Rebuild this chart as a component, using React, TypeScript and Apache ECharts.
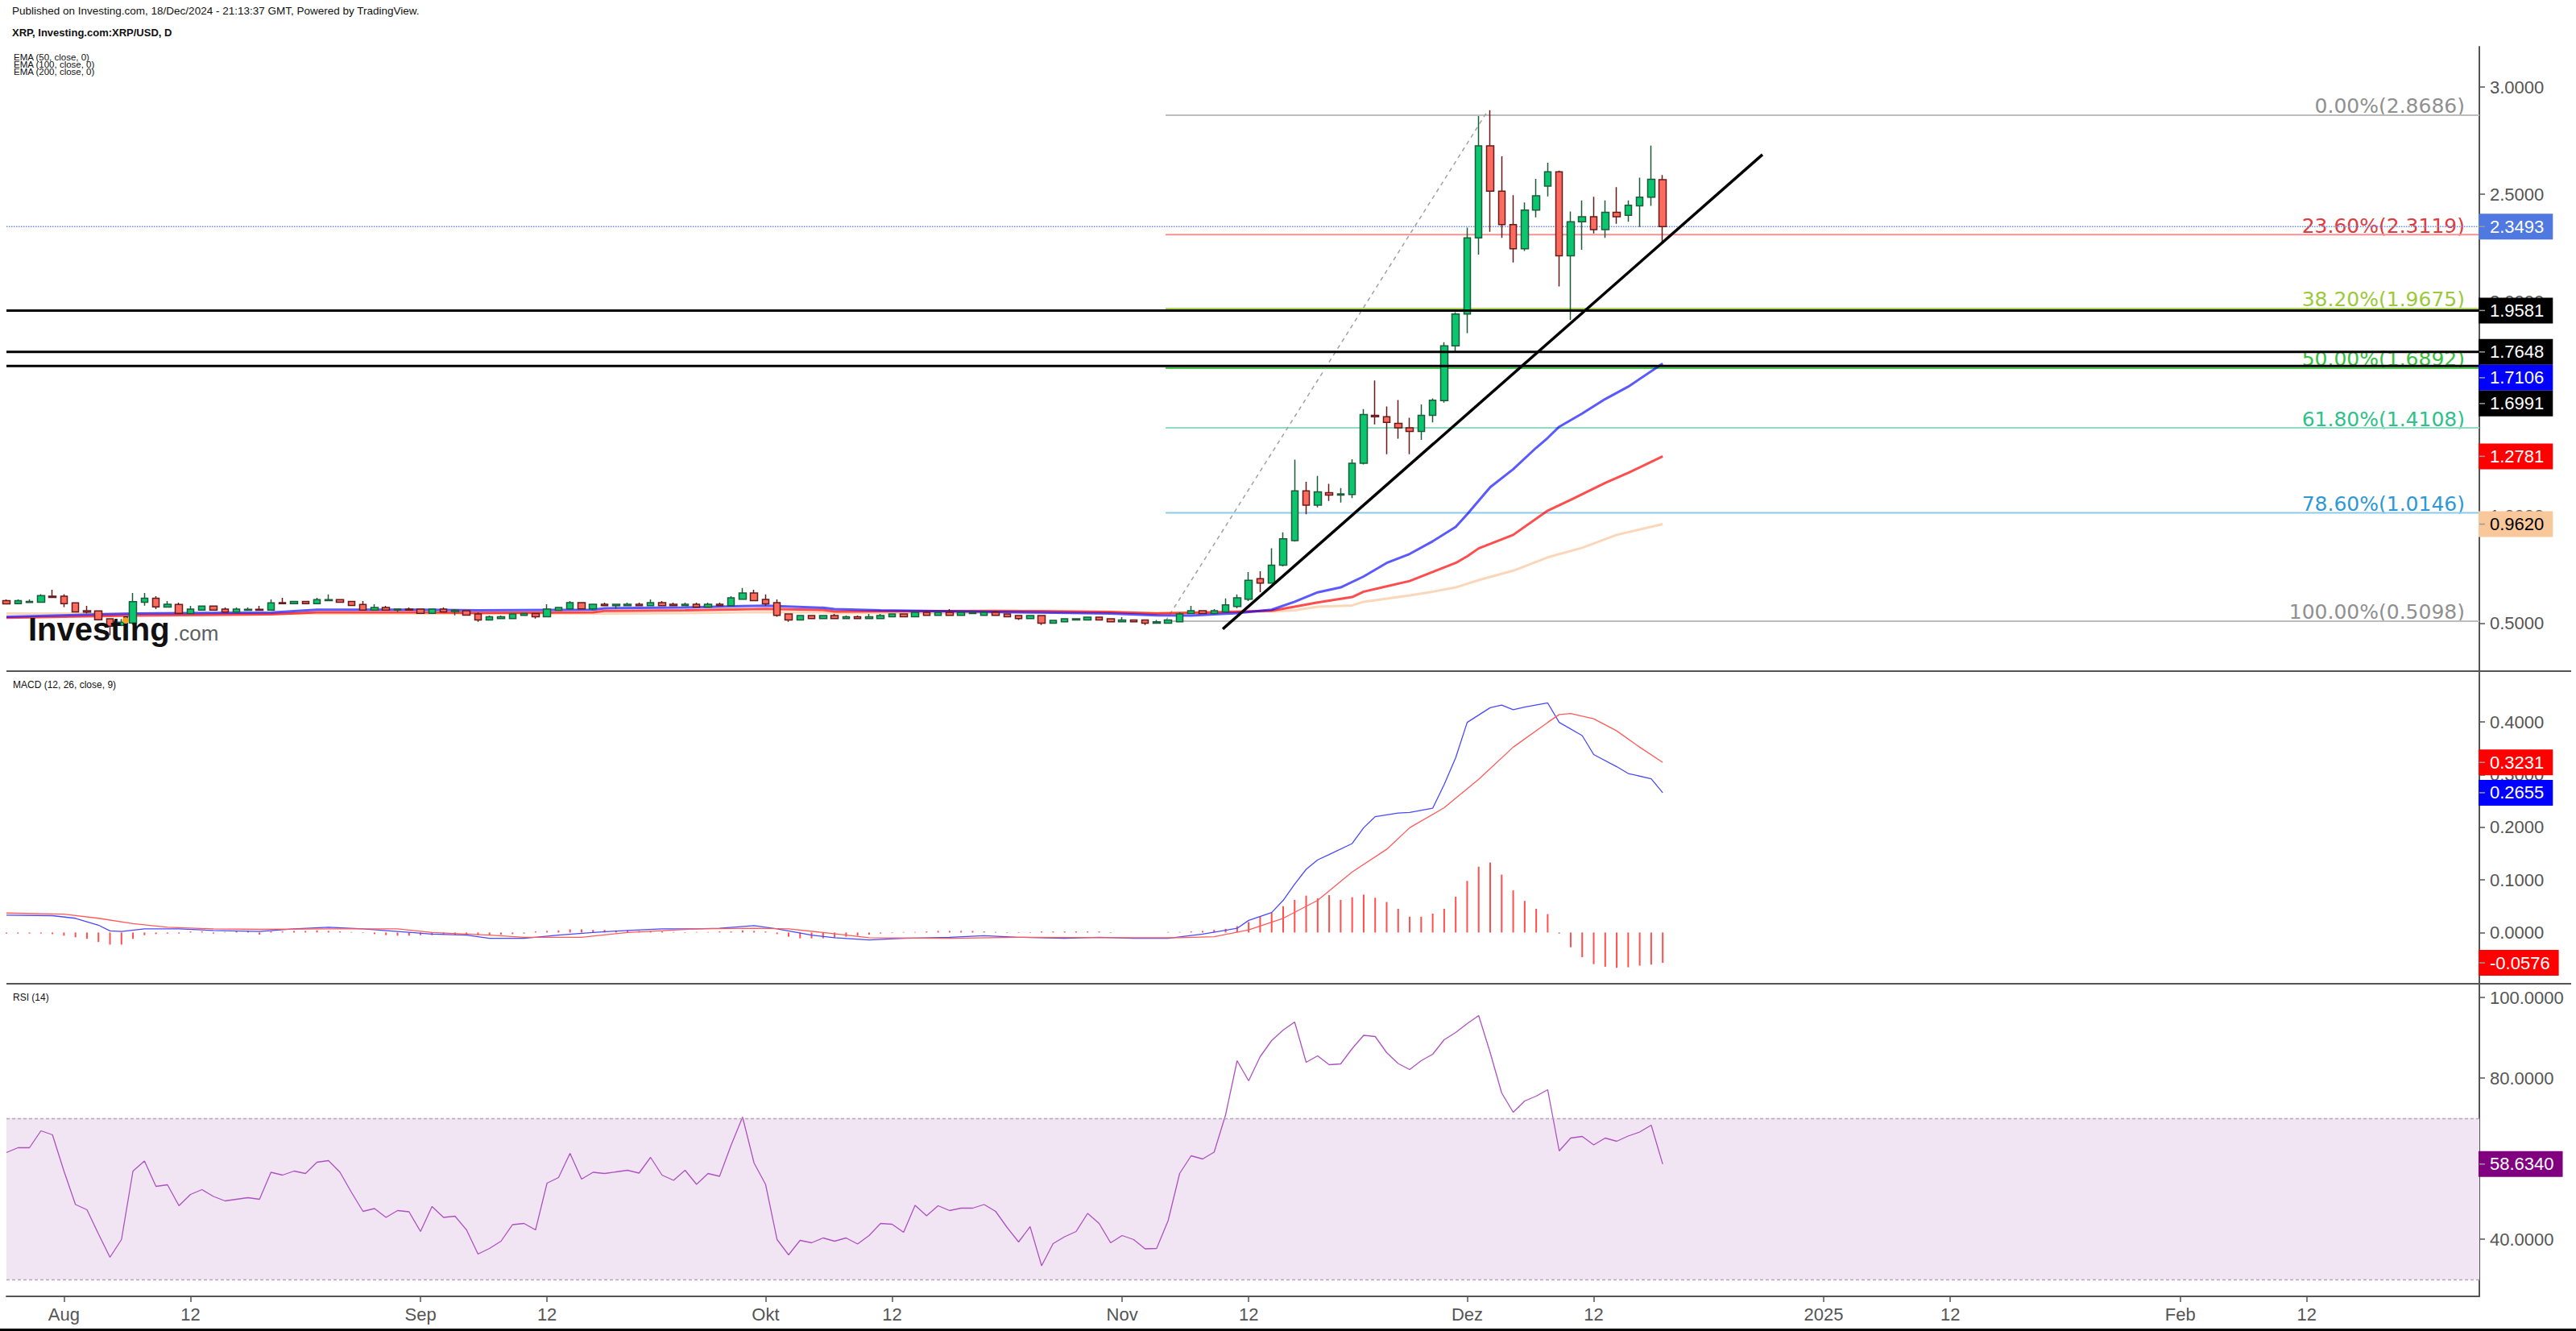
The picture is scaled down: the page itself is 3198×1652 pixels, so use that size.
import React, { useEffect, useRef } from "react";
import * as echarts from "echarts";

// ---------------- DATA ----------------
const START_DATE = "2024-07-27";
const END_DATE = "2025-02-27";

// Daily candles from 2024-07-27 to 2024-12-18: [open, close, low, high]
const candles: number[][] = [
  [0.605, 0.590, 0.589, 0.611], [0.591, 0.605, 0.590, 0.611], [0.597, 0.602, 0.596, 0.611], [0.598, 0.629, 0.597, 0.635],
  [0.626, 0.620, 0.619, 0.656], [0.626, 0.591, 0.575, 0.635], [0.595, 0.553, 0.552, 0.596], [0.558, 0.552, 0.545, 0.581],
  [0.557, 0.516, 0.514, 0.558], [0.521, 0.486, 0.444, 0.524], [0.490, 0.505, 0.486, 0.520], [0.501, 0.601, 0.494, 0.641],
  [0.598, 0.617, 0.582, 0.641], [0.617, 0.576, 0.566, 0.626], [0.575, 0.588, 0.574, 0.603], [0.587, 0.546, 0.545, 0.596],
  [0.545, 0.566, 0.544, 0.581], [0.561, 0.580, 0.560, 0.581], [0.580, 0.561, 0.560, 0.581], [0.566, 0.552, 0.551, 0.573],
  [0.552, 0.566, 0.551, 0.573], [0.560, 0.565, 0.559, 0.573], [0.565, 0.560, 0.559, 0.581], [0.561, 0.595, 0.560, 0.611],
  [0.596, 0.591, 0.590, 0.618], [0.591, 0.602, 0.590, 0.603], [0.602, 0.591, 0.590, 0.603], [0.591, 0.610, 0.590, 0.618],
  [0.605, 0.610, 0.604, 0.634], [0.610, 0.598, 0.597, 0.611], [0.602, 0.583, 0.582, 0.603], [0.587, 0.561, 0.560, 0.603],
  [0.561, 0.573, 0.560, 0.588], [0.573, 0.561, 0.560, 0.581], [0.561, 0.566, 0.553, 0.567], [0.566, 0.561, 0.560, 0.573],
  [0.566, 0.546, 0.545, 0.567], [0.546, 0.566, 0.545, 0.567], [0.566, 0.553, 0.552, 0.573], [0.555, 0.561, 0.537, 0.566],
  [0.558, 0.538, 0.537, 0.559], [0.543, 0.515, 0.507, 0.551], [0.515, 0.530, 0.514, 0.536], [0.522, 0.530, 0.521, 0.536],
  [0.522, 0.543, 0.521, 0.544], [0.537, 0.545, 0.536, 0.546], [0.545, 0.530, 0.522, 0.546], [0.530, 0.566, 0.529, 0.588],
  [0.560, 0.573, 0.559, 0.574], [0.567, 0.596, 0.566, 0.603], [0.596, 0.567, 0.566, 0.597], [0.567, 0.588, 0.560, 0.589],
  [0.588, 0.582, 0.581, 0.596], [0.582, 0.588, 0.567, 0.589], [0.582, 0.588, 0.581, 0.596], [0.588, 0.582, 0.581, 0.596],
  [0.582, 0.596, 0.581, 0.611], [0.596, 0.582, 0.581, 0.603], [0.588, 0.582, 0.581, 0.596], [0.582, 0.588, 0.581, 0.596],
  [0.588, 0.575, 0.574, 0.596], [0.575, 0.588, 0.574, 0.596], [0.588, 0.582, 0.581, 0.596], [0.582, 0.618, 0.581, 0.626],
  [0.612, 0.641, 0.611, 0.664], [0.641, 0.605, 0.604, 0.656], [0.611, 0.590, 0.581, 0.634], [0.596, 0.537, 0.530, 0.611],
  [0.543, 0.515, 0.507, 0.544], [0.515, 0.536, 0.514, 0.537], [0.536, 0.522, 0.521, 0.537], [0.522, 0.536, 0.521, 0.537],
  [0.536, 0.522, 0.521, 0.543], [0.522, 0.530, 0.521, 0.536], [0.530, 0.522, 0.521, 0.536], [0.522, 0.530, 0.521, 0.543],
  [0.522, 0.536, 0.521, 0.543], [0.530, 0.543, 0.529, 0.544], [0.543, 0.530, 0.529, 0.544], [0.530, 0.551, 0.529, 0.552],
  [0.551, 0.537, 0.536, 0.558], [0.537, 0.551, 0.536, 0.552], [0.551, 0.537, 0.536, 0.566], [0.537, 0.551, 0.536, 0.552],
  [0.545, 0.551, 0.544, 0.552], [0.537, 0.551, 0.536, 0.558], [0.551, 0.537, 0.536, 0.558], [0.543, 0.530, 0.529, 0.544],
  [0.536, 0.522, 0.515, 0.537], [0.522, 0.536, 0.521, 0.537], [0.536, 0.500, 0.492, 0.537], [0.500, 0.513, 0.499, 0.514],
  [0.507, 0.521, 0.506, 0.522], [0.515, 0.521, 0.514, 0.522], [0.515, 0.528, 0.514, 0.529], [0.528, 0.515, 0.514, 0.529],
  [0.521, 0.507, 0.506, 0.522], [0.507, 0.515, 0.506, 0.528], [0.515, 0.507, 0.506, 0.516], [0.515, 0.500, 0.492, 0.516],
  [0.500, 0.507, 0.499, 0.515], [0.500, 0.515, 0.499, 0.516], [0.507, 0.543, 0.506, 0.551], [0.545, 0.558, 0.544, 0.581],
  [0.558, 0.545, 0.544, 0.559], [0.545, 0.558, 0.544, 0.566], [0.553, 0.586, 0.550, 0.616], [0.578, 0.618, 0.570, 0.634],
  [0.612, 0.700, 0.603, 0.739], [0.708, 0.687, 0.645, 0.742], [0.687, 0.771, 0.685, 0.849], [0.771, 0.894, 0.765, 0.924],
  [0.885, 1.117, 0.880, 1.263], [1.117, 1.050, 1.008, 1.159], [1.050, 1.112, 1.040, 1.187], [1.109, 1.097, 1.070, 1.150],
  [1.097, 1.103, 1.063, 1.130], [1.100, 1.246, 1.083, 1.265], [1.246, 1.473, 1.240, 1.498], [1.469, 1.463, 1.427, 1.632],
  [1.463, 1.436, 1.288, 1.511], [1.432, 1.411, 1.360, 1.541], [1.411, 1.394, 1.288, 1.458], [1.394, 1.469, 1.355, 1.520],
  [1.469, 1.540, 1.436, 1.548], [1.538, 1.793, 1.528, 1.810], [1.793, 1.942, 1.768, 1.950], [1.942, 2.297, 1.852, 2.345],
  [2.297, 2.726, 2.219, 2.865], [2.726, 2.515, 2.325, 2.892], [2.515, 2.359, 2.297, 2.677], [2.359, 2.246, 2.182, 2.496],
  [2.246, 2.426, 2.236, 2.462], [2.426, 2.493, 2.392, 2.572], [2.538, 2.605, 2.490, 2.647], [2.605, 2.213, 2.070, 2.610],
  [2.213, 2.372, 1.914, 2.420], [2.372, 2.395, 2.241, 2.471], [2.395, 2.335, 2.317, 2.488], [2.335, 2.416, 2.297, 2.471],
  [2.416, 2.395, 2.362, 2.533], [2.402, 2.449, 2.372, 2.471], [2.446, 2.486, 2.347, 2.577], [2.486, 2.570, 2.446, 2.727],
  [2.568, 2.3493, 2.270, 2.590],
];

// EMA lines, read at points: [day index from 2024-07-27, value]
const ema50Points: number[][] = [
  [0, 0.530], [11, 0.545], [23, 0.550], [27, 0.563], [36, 0.563], [41, 0.560], [51, 0.563], [52, 0.570], [59, 0.573],
  [64, 0.580], [66, 0.582], [71, 0.572], [72, 0.566], [76, 0.560], [86, 0.553], [90, 0.550], [96, 0.545], [100, 0.537],
  [103, 0.536], [107, 0.547], [110, 0.563], [112, 0.600], [114, 0.644], [116, 0.667], [118, 0.718], [120, 0.781],
  [122, 0.823], [124, 0.882], [126, 0.949], [127, 1.008], [129, 1.134], [131, 1.218], [133, 1.318], [134, 1.364],
  [135, 1.416], [137, 1.478], [139, 1.545], [141, 1.603], [144, 1.7106],
];
const ema100Points: number[][] = [
  [0, 0.525], [11, 0.536], [23, 0.541], [27, 0.551], [36, 0.551], [41, 0.548], [51, 0.551], [52, 0.557], [59, 0.560],
  [64, 0.565], [66, 0.567], [71, 0.562], [72, 0.555], [86, 0.557], [90, 0.556], [96, 0.553], [100, 0.545], [105, 0.551],
  [110, 0.558], [112, 0.577], [114, 0.597], [117, 0.622], [118, 0.647], [120, 0.672], [122, 0.697], [124, 0.739],
  [126, 0.781], [127, 0.812], [128, 0.849], [131, 0.912], [134, 1.025], [136, 1.075], [139, 1.154], [141, 1.201],
  [144, 1.2781],
];
const ema200Points: number[][] = [
  [0, 0.545], [36, 0.545], [51, 0.545], [59, 0.547], [64, 0.551], [71, 0.551], [72, 0.547], [96, 0.550], [100, 0.548],
  [110, 0.555], [112, 0.560], [114, 0.577], [117, 0.583], [118, 0.600], [122, 0.630], [124, 0.647], [126, 0.667],
  [128, 0.701], [131, 0.745], [134, 0.807], [137, 0.852], [140, 0.912], [144, 0.962],
];

// MACD (12, 26, close, 9)
const macdPoints: number[][] = [
  [0, 0.033], [4, 0.032], [6, 0.027], [8, 0.014], [9, 0.003], [10, 0.002], [12, 0.007], [15, 0.007], [18, 0.004],
  [22, 0.002], [25, 0.007], [28, 0.010], [31, 0.007], [34, 0.002], [37, -0.003], [40, -0.005], [42, -0.011], [45, -0.011],
  [48, -0.005], [51, 0.0], [54, 0.004], [57, 0.007], [60, 0.007], [62, 0.008], [65, 0.013], [67, 0.007], [70, -0.005],
  [72, -0.010], [75, -0.014], [78, -0.011], [82, -0.009], [85, -0.006], [88, -0.009], [92, -0.011], [95, -0.009],
  [98, -0.011], [101, -0.011], [104, -0.003], [107, 0.008], [108, 0.023], [110, 0.038], [111, 0.061], [112, 0.092],
  [113, 0.120], [114, 0.138], [115, 0.148], [117, 0.169], [118, 0.199], [119, 0.220], [121, 0.227], [122, 0.228],
  [124, 0.236], [125, 0.281], [126, 0.332], [127, 0.399], [129, 0.427], [130, 0.432], [131, 0.423], [132, 0.428],
  [134, 0.436], [135, 0.399], [137, 0.374], [138, 0.338], [140, 0.315], [141, 0.302], [143, 0.292], [144, 0.2655],
];
const signalPoints: number[][] = [
  [0, 0.037], [5, 0.035], [8, 0.027], [11, 0.017], [14, 0.010], [18, 0.007], [22, 0.006], [28, 0.007], [34, 0.007],
  [37, 0.0], [42, -0.005], [45, -0.009], [50, -0.009], [54, 0.0], [60, 0.007], [65, 0.008], [68, 0.007], [71, 0.0],
  [75, -0.010], [82, -0.011], [88, -0.009], [97, -0.010], [102, -0.010], [105, -0.008], [108, 0.005], [111, 0.027],
  [114, 0.061], [117, 0.115], [120, 0.158], [122, 0.199], [125, 0.237], [128, 0.291], [131, 0.352], [134, 0.399],
  [135, 0.414], [136, 0.416], [138, 0.406], [140, 0.383], [142, 0.352], [144, 0.3231],
];
const histValues: number[] = [
  -0.002, -0.002, -0.002, -0.002, -0.003, -0.006, -0.009, -0.012, -0.018, -0.023,
  -0.023, -0.012, -0.005, -0.003, -0.002, -0.002, 0.002, 0.002, -0.002, 0.001,
  0.003, 0.003, -0.004, 0.002, 0.002, 0.003, 0.003, 0.004, 0.003, 0.002,
  0.001, -0.001, -0.003, -0.005, -0.006, -0.006, -0.005, -0.005, -0.004, -0.004,
  -0.005, -0.005, -0.004, -0.004, -0.003, -0.002, 0.002, 0.003, 0.004, 0.006,
  0.006, 0.005, 0.005, 0.004, 0.004, 0.003, 0.003, 0.002, 0.001, -0.001,
  0.001, 0.001, 0.002, 0.002, 0.004, 0.003, 0.002, -0.003, -0.008, -0.011,
  -0.011, -0.011, -0.010, -0.008, -0.006, -0.004, -0.002, -0.001, 0.001, 0.001,
  0.002, 0.003, 0.003, 0.003, 0.003, 0.002, 0.001, -0.001, -0.001, -0.001,
  0.002, 0.002, 0.002, 0.002, 0.002, 0.002, -0.001, 0.0, 0.0, 0.0,
  0.0, 0.001, 0.001, 0.002, 0.003, 0.005, 0.007, 0.012, 0.020, 0.030,
  0.038, 0.050, 0.062, 0.070, 0.065, 0.071, 0.062, 0.067, 0.072, 0.066,
  0.058, 0.045, 0.030, 0.030, 0.036, 0.045, 0.068, 0.098, 0.125, 0.133,
  0.110, 0.080, 0.060, 0.045, 0.035, -0.002, -0.028, -0.047, -0.060, -0.065,
  -0.067, -0.066, -0.063, -0.061, -0.0576,
];

// RSI (14)
const rsiValues: number[] = [
  61.5, 62.7, 62.7, 66.9, 65.9, 56.9, 48.6, 47.3, 41.3, 35.5,
  39.9, 56.9, 59.4, 53.1, 53.5, 48.3, 51.1, 52.3, 50.6, 49.5,
  49.9, 50.3, 49.9, 56.6, 55.9, 56.9, 56.3, 59.1, 59.5, 56.6,
  51.6, 46.9, 47.6, 45.4, 47.1, 46.8, 41.9, 48.1, 45.4, 45.7,
  42.3, 36.3, 37.7, 39.5, 43.6, 43.9, 42.3, 53.9, 55.3, 61.3,
  54.9, 56.6, 56.3, 56.7, 57.1, 56.4, 60.3, 55.9, 54.6, 57.1,
  53.6, 56.3, 55.6, 63.3, 70.3, 58.9, 53.6, 39.9, 36.1, 39.7,
  39.1, 40.3, 39.5, 40.3, 38.8, 40.9, 43.9, 43.7, 41.7, 48.4,
  45.8, 48.3, 47.1, 47.7, 47.7, 48.6, 46.9, 42.9, 39.3, 43.1,
  33.4, 38.9, 40.6, 41.9, 46.4, 43.9, 39.1, 40.9, 39.9, 37.6,
  37.7, 44.6, 56.3, 60.7, 59.9, 61.6, 70.9, 84.3, 79.3, 85.3,
  89.3, 91.9, 93.9, 83.9, 85.5, 83.3, 83.5, 87.3, 90.6, 90.3,
  86.3, 83.6, 82.1, 84.3, 85.9, 89.5, 91.3, 93.5, 95.5, 86.3,
  76.3, 71.5, 74.3, 75.5, 77.1, 61.9, 65.1, 65.5, 63.4, 65.1,
  64.3, 65.6, 66.6, 68.3, 58.634,
];

const tickLabels: string[][] = [
  ["2024-08-01", "Aug"], ["2024-08-12", "12"], ["2024-09-01", "Sep"], ["2024-09-12", "12"],
  ["2024-10-01", "Okt"], ["2024-10-12", "12"], ["2024-11-01", "Nov"], ["2024-11-12", "12"],
  ["2024-12-01", "Dez"], ["2024-12-12", "12"], ["2025-01-01", "2025"], ["2025-01-12", "12"],
  ["2025-02-01", "Feb"], ["2025-02-12", "12"],
];

// axis ticks; labels hidden by the price tags are left out of the label lists
const priceTicks = [0.5, 1, 1.5, 2, 2.5, 3];
const priceTickLabels = [0.5, 1, 2, 2.5, 3];
const macdTicks = [0, 0.1, 0.2, 0.3, 0.4];
const rsiTicks = [40, 60, 80, 100];
const rsiTickLabels = [40, 80, 100];

const fibLevelNames = ["0.00%", "23.60%", "38.20%", "50.00%", "61.80%", "78.60%", "100.00%"];
const fibValues = [2.8686, 2.3119, 1.9675, 1.6892, 1.4108, 1.0146, 0.5098];
const fibTextColors = ["#909090", "#e03a3e", "#9cc93c", "#36c23c", "#2fc18b", "#2e98d6", "#909090"];
const fibLineColors = ["#bdbdbd", "#f29292", "#aed45c", "#4cc452", "#8fdcc0", "#8ecbe8", "#bdbdbd"];
const fibStartIndex = 100.78;
const fibDiagonal: number[][] = [[100.78, 0.5098], [128.8, 2.89]];
const trendLine: number[][] = [[105.75, 0.473], [152.67, 2.685]];
const blackLevels = [1.9581, 1.7648, 1.6991];
const lastPrice = 2.3493;

const priceTags = [
  { value: 2.3493, bg: "#4f78e1", fg: "#ffffff" },
  { value: 1.9581, bg: "#000000", fg: "#ffffff" },
  { value: 1.7648, bg: "#000000", fg: "#ffffff" },
  { value: 1.7106, bg: "#0000ff", fg: "#ffffff" },
  { value: 1.6991, bg: "#000000", fg: "#ffffff" },
  { value: 1.2781, bg: "#ff0000", fg: "#ffffff" },
  { value: 0.962, bg: "#f8c89b", fg: "#000000" },
];
const macdTags = [
  { value: 0.3231, bg: "#ff0000", fg: "#ffffff" },
  { value: 0.2655, bg: "#0000ff", fg: "#ffffff" },
  { value: -0.0576, bg: "#ff0000", fg: "#ffffff" },
];
const rsiTags = [{ value: 58.634, bg: "#800080", fg: "#ffffff" }];

// ---------------- helpers ----------------
const FONT = '"Liberation Sans", Arial, sans-serif';

function buildDates(start: string, end: string): string[] {
  const out: string[] = [];
  const d = new Date(start + "T00:00:00Z");
  const e = new Date(end + "T00:00:00Z");
  while (d.getTime() <= e.getTime()) {
    out.push(d.toISOString().slice(0, 10));
    d.setUTCDate(d.getUTCDate() + 1);
  }
  return out;
}

function yAxisCfg(gridIndex: number, min: number, max: number, ticks: number[], labels: number[]) {
  return {
    type: "value",
    gridIndex,
    position: "right",
    min,
    max,
    axisLine: { show: true, onZero: false, lineStyle: { color: "#555555", width: 2 } },
    axisTick: { show: true, length: 7, customValues: ticks, lineStyle: { color: "#555555", width: 1.5 } },
    axisLabel: {
      show: true,
      margin: 13,
      color: "#555555",
      fontSize: 22,
      fontFamily: FONT,
      customValues: labels,
      formatter: (v: number) => Number(v).toFixed(4),
    },
    splitLine: { show: false },
  };
}

function App() {
  const ref = useRef<HTMLDivElement>(null);

  useEffect(() => {
    if (!ref.current) return;
    const chart = echarts.init(ref.current, undefined, { renderer: "svg" });
    const dates = buildDates(START_DATE, END_DATE);
    const lastIndex = dates.length - 1;
    const labelMap = new Map<string, string>(tickLabels.map((t) => [t[0], t[1]] as [string, string]));
    const showTick = (_i: number, v: string) => labelMap.has(v);

    const gridL = 8;
    const gridW = 3070;

    const hiddenCat = (gridIndex: number) => ({
      type: "category",
      gridIndex,
      data: dates,
      boundaryGap: false,
      show: false,
    });

    const flatLine = (name: string, data: number[][], color: string, width: number, type: any, z: number) => ({
      name,
      type: "line",
      xAxisIndex: 3,
      yAxisIndex: 0,
      data,
      symbol: "none",
      silent: true,
      z,
      lineStyle: { color, width, type },
    });

    const series: any[] = [];

    series.push({
      name: "EMA200",
      type: "line",
      xAxisIndex: 0,
      yAxisIndex: 0,
      data: ema200Points,
      symbol: "none",
      z: 3,
      lineStyle: { color: "rgba(245,166,100,0.45)", width: 3 },
    });
    series.push({
      name: "EMA100",
      type: "line",
      xAxisIndex: 0,
      yAxisIndex: 0,
      data: ema100Points,
      symbol: "none",
      z: 3,
      lineStyle: { color: "rgba(255,0,0,0.7)", width: 3 },
    });
    series.push({
      name: "EMA50",
      type: "line",
      xAxisIndex: 0,
      yAxisIndex: 0,
      data: ema50Points,
      symbol: "none",
      z: 3,
      lineStyle: { color: "rgba(0,0,255,0.65)", width: 3 },
    });

    fibValues.forEach((v, i) => {
      series.push(flatLine("fib" + i, [[fibStartIndex, v], [lastIndex, v]], fibLineColors[i], 2, "solid", 2));
    });
    series.push(flatLine("fibDiag", fibDiagonal, "#a0a0a0", 1.5, [5, 5], 2));
    series.push(flatLine("last", [[0, lastPrice], [lastIndex, lastPrice]], "#6f8ff0", 1.5, "dotted", 2));

    series.push({
      name: "XRP",
      type: "candlestick",
      xAxisIndex: 0,
      yAxisIndex: 0,
      data: candles,
      barWidth: 9,
      z: 5,
      itemStyle: {
        color: "#0bc56f",
        color0: "#fd6a5e",
        borderColor: "#1e5b39",
        borderColor0: "#661b1b",
        borderWidth: 1.5,
      },
    });

    blackLevels.forEach((v, i) => {
      series.push(flatLine("h" + i, [[0, v], [lastIndex, v]], "#000000", 3, "solid", 6));
    });
    series.push(flatLine("trend", trendLine, "#000000", 3.5, "solid", 7));

    // MACD
    series.push({
      name: "Histogram",
      type: "bar",
      xAxisIndex: 1,
      yAxisIndex: 1,
      data: histValues,
      barWidth: 2,
      itemStyle: { color: "#ff4f4f" },
      z: 2,
    });
    series.push({
      name: "MACD",
      type: "line",
      xAxisIndex: 1,
      yAxisIndex: 1,
      data: macdPoints,
      symbol: "none",
      z: 3,
      lineStyle: { color: "#4848ff", width: 1.3 },
    });
    series.push({
      name: "Signal",
      type: "line",
      xAxisIndex: 1,
      yAxisIndex: 1,
      data: signalPoints,
      symbol: "none",
      z: 3,
      lineStyle: { color: "#ff5a5a", width: 1.3 },
    });

    // RSI
    series.push({
      name: "RSI",
      type: "line",
      xAxisIndex: 2,
      yAxisIndex: 2,
      data: rsiValues,
      symbol: "none",
      z: 3,
      lineStyle: { color: "#ad52c0", width: 1.3 },
      markArea: {
        silent: true,
        itemStyle: { color: "#f1e5f3" },
        data: [[{ yAxis: 30 }, { yAxis: 70 }]],
      },
      markLine: {
        silent: true,
        symbol: ["none", "none"],
        label: { show: false },
        lineStyle: { color: "#b3a9b5", width: 1.3, type: [4, 3] },
        data: [{ yAxis: 70 }, { yAxis: 30 }],
      },
    });

    const option: any = {
      animation: false,
      backgroundColor: "#ffffff",
      textStyle: { fontFamily: FONT },
      grid: [
        { left: gridL, top: 58, width: gridW, height: 775, containLabel: false, outerBoundsMode: "none" },
        { left: gridL, top: 833, width: gridW, height: 388, containLabel: false, outerBoundsMode: "none" },
        { left: gridL, top: 1221, width: gridW, height: 388, containLabel: false, outerBoundsMode: "none" },
      ],
      xAxis: [
        hiddenCat(0),
        hiddenCat(1),
        {
          type: "category",
          gridIndex: 2,
          data: dates,
          boundaryGap: false,
          axisLine: { show: true, lineStyle: { color: "#555555", width: 2 } },
          axisTick: { show: true, length: 7, interval: showTick, lineStyle: { color: "#555555", width: 1.5 } },
          axisLabel: {
            show: true,
            interval: showTick,
            formatter: (v: string) => labelMap.get(v) || "",
            color: "#555555",
            fontSize: 22,
            fontFamily: FONT,
            margin: 11,
          },
          splitLine: { show: false },
        },
        { type: "value", gridIndex: 0, min: 0, max: lastIndex, show: false },
      ],
      yAxis: [
        yAxisCfg(0, 0.2766, 3.1879, priceTicks, priceTickLabels),
        yAxisCfg(1, -0.0973, 0.4964, macdTicks, macdTicks),
        yAxisCfg(2, 25.8, 103.4, rsiTicks, rsiTickLabels),
      ],
      series,
    };

    chart.setOption(option);

    // ---------- graphic pass (positions derived from axes) ----------
    const canvas = document.createElement("canvas");
    const ctx = canvas.getContext("2d");
    const tagFont = '22px "Liberation Sans"';
    const measure = (t: string) => {
      if (!ctx) return t.length * 11;
      ctx.font = tagFont;
      return ctx.measureText(t).width;
    };

    const axisRight = chart.convertToPixel({ xAxisIndex: 3 }, lastIndex) as number;
    const elements: any[] = [];

    const addTags = (tags: { value: number; bg: string; fg: string }[], axis: number) => {
      const items = tags.map((t) => ({ ...t, y: chart.convertToPixel({ yAxisIndex: axis }, t.value) as number }));
      items.sort((a, b) => a.y - b.y);
      for (let i = 1; i < items.length; i++) {
        if (items[i].y - items[i - 1].y < 32) items[i].y = items[i - 1].y + 32;
      }
      items.forEach((it) => {
        const label = it.value.toFixed(4);
        const tw = measure(label);
        elements.push({
          type: "rect",
          z: 100,
          silent: true,
          shape: { x: axisRight - 1, y: it.y - 16, width: tw + 25, height: 32 },
          style: { fill: it.bg },
        });
        elements.push({
          type: "line",
          z: 101,
          silent: true,
          shape: { x1: axisRight, y1: it.y, x2: axisRight + 7, y2: it.y },
          style: { stroke: "#9a9a9a", lineWidth: 1.5 },
        });
        elements.push({
          type: "text",
          z: 101,
          silent: true,
          x: axisRight + 13,
          y: it.y,
          style: {
            text: label,
            font: tagFont,
            fill: it.fg,
            align: "left",
            verticalAlign: "middle",
            textAlign: "left",
            textVerticalAlign: "middle",
          },
        });
      });
    };
    addTags(priceTags, 0);
    addTags(macdTags, 1);
    addTags(rsiTags, 2);

    fibValues.forEach((v, i) => {
      const y = chart.convertToPixel({ yAxisIndex: 0 }, v) as number;
      elements.push({
        type: "text",
        z: 1,
        silent: true,
        x: axisRight - 18,
        y: y - 11,
        style: {
          text: `${fibLevelNames[i]}(${v.toFixed(4)})`,
          font: '25px "DejaVu Sans"',
          fill: fibTextColors[i],
          align: "right",
          verticalAlign: "middle",
          textAlign: "right",
          textVerticalAlign: "middle",
        },
      });
    });

    const txt = (text: string, x: number, y: number, font: string, fill: string) => ({
      type: "text",
      z: 50,
      silent: true,
      x,
      y,
      style: { text, font, fill, align: "left", verticalAlign: "middle", textAlign: "left", textVerticalAlign: "middle" },
    });

    elements.push(txt("Published on Investing.com, 18/Dec/2024 - 21:13:37 GMT, Powered by TradingView.", 15, 13, '13.5px "Liberation Sans"', "#111111"));
    elements.push(txt("XRP, Investing.com:XRP/USD, D", 15, 40.5, 'bold 13px "Liberation Sans"', "#111111"));
    elements.push(txt("EMA (50, close, 0)", 17, 71, '11.5px "Liberation Sans"', "#111111"));
    elements.push(txt("EMA (100, close, 0)", 17, 80, '11.5px "Liberation Sans"', "#111111"));
    elements.push(txt("EMA (200, close, 0)", 17, 89, '11.5px "Liberation Sans"', "#111111"));
    elements.push(txt("MACD (12, 26, close, 9)", 16, 850, '12px "Liberation Sans"', "#111111"));
    elements.push(txt("RSI (14)", 16, 1238, '12px "Liberation Sans"', "#111111"));

    // Investing.com watermark
    elements.push(txt("Investing", 35, 781, 'bold 40px "Liberation Sans"', "#111111"));
    elements.push(txt(".com", 215, 786, '26px "Liberation Sans"', "#606060"));
    elements.push({ type: "circle", z: 51, silent: true, shape: { cx: 156, cy: 770, r: 4 }, style: { fill: "#f5a11c" } });

    // panel separators
    [833, 1221].forEach((y) => {
      elements.push({
        type: "line",
        z: 60,
        silent: true,
        shape: { x1: 8, y1: y, x2: 3192, y2: y },
        style: { stroke: "#555555", lineWidth: 2 },
      });
    });
    elements.push({ type: "rect", z: 60, silent: true, shape: { x: 0, y: 1649, width: 3198, height: 3 }, style: { fill: "#000000" } });

    chart.setOption({ graphic: { elements } });

    return () => {
      chart.dispose();
    };
  }, []);

  return (
    <div
      ref={ref}
      style={{ position: "fixed", left: 0, top: 0, width: 3198, height: 1652, background: "#ffffff" }}
    />
  );
}

export default App;
